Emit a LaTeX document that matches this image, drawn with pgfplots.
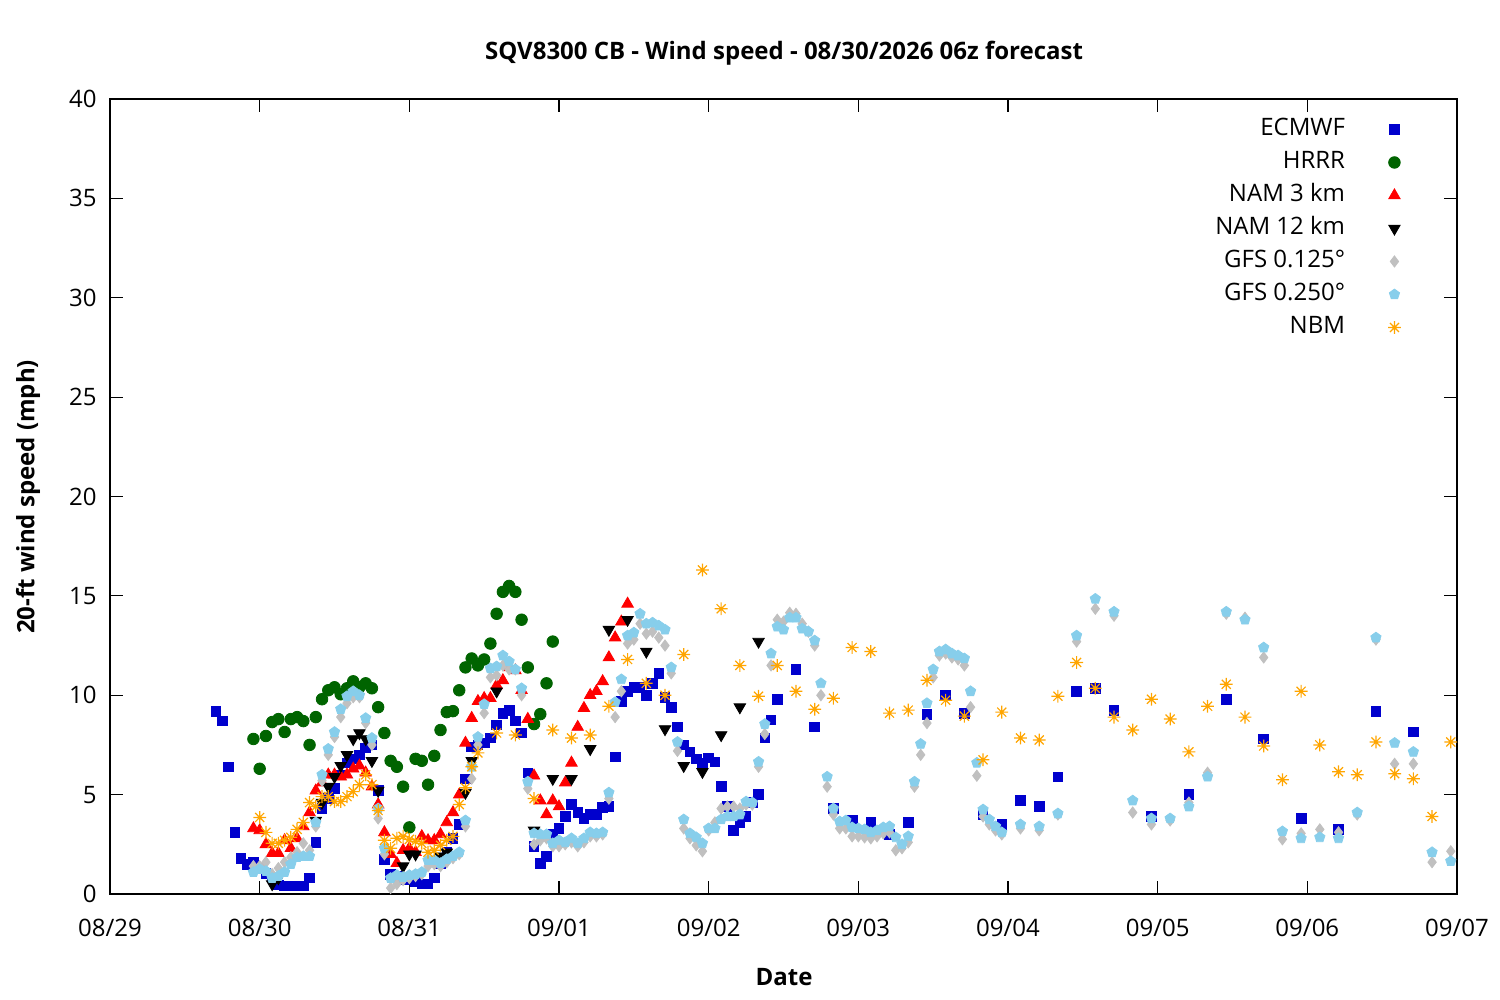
\documentclass[border=0pt]{standalone}
\usepackage{fontspec}
\setmainfont{Open Sans}
\usepackage{pgfplots}
\pgfplotsset{compat=1.18}
\usetikzlibrary{plotmarks}
\definecolor{ecblue}{RGB}{0,0,205}
\definecolor{hrgreen}{RGB}{0,100,0}
\definecolor{gfsgray}{RGB}{192,192,192}
\definecolor{gfsblue}{RGB}{135,206,235}
\definecolor{nbmorange}{RGB}{255,165,0}
\pgfdeclareplotmark{gpast}{%
 \pgfpathmoveto{\pgfqpoint{-\pgfplotmarksize}{0pt}}\pgfpathlineto{\pgfqpoint{\pgfplotmarksize}{0pt}}%
 \pgfpathmoveto{\pgfqpoint{0pt}{-\pgfplotmarksize}}\pgfpathlineto{\pgfqpoint{0pt}{\pgfplotmarksize}}%
 \pgfpathmoveto{\pgfqpoint{-0.7071\pgfplotmarksize}{-0.7071\pgfplotmarksize}}\pgfpathlineto{\pgfqpoint{0.7071\pgfplotmarksize}{0.7071\pgfplotmarksize}}%
 \pgfpathmoveto{\pgfqpoint{-0.7071\pgfplotmarksize}{0.7071\pgfplotmarksize}}\pgfpathlineto{\pgfqpoint{0.7071\pgfplotmarksize}{-0.7071\pgfplotmarksize}}%
 \pgfusepathqstroke}
\begin{document}
\begin{tikzpicture}
\useasboundingbox (0,0) rectangle (750pt,500pt);
\begin{axis}[
 name=ax, at={(55pt,53pt)}, anchor=south west, scale only axis,
 width=673.5pt, height=397.5pt,
 xmin=0, xmax=216, ymin=0, ymax=40, clip=false,
 xtick={0,24,...,216},
 xticklabels={08/29,08/30,08/31,09/01,09/02,09/03,09/04,09/05,09/06,09/07},
 ytick={0,5,...,40},
 minor tick num=0,
 tick align=inside, major tick length=6.5pt,
 axis line style={line width=0.6pt},
 every tick/.style={line width=0.6pt, black},
 /pgf/number format/assume math mode=true,
 every tick label/.append style={font=\fontsize{12}{14}\selectfont, inner sep=0pt},
 xticklabel style={anchor=base, yshift=-21.5pt},
 yticklabel style={anchor=east, xshift=-6.5pt},
 legend cell align=right, legend plot pos=right,
 legend style={draw=none, fill=none, at={(rel axis cs:0.9586,0.976)}, anchor=north east,
   inner sep=0pt, row sep=5.5pt,
   nodes={inner sep=0pt, text height=8.5pt, text depth=2.5pt, font=\fontsize{12}{14}\selectfont},
   /tikz/every odd column/.append style={column sep=21.5pt}},
]
\addplot[only marks, mark=square*, mark size=2.4pt, color=ecblue] coordinates {
(17,9.2)(18,8.7)(19,6.4)(20,3.1)(21,1.8)(22,1.5)(23,1.6)(24,1.3)(25,1.05)(26,0.8)(27,0.45)(28,0.4)(29,0.4)(30,0.4)(31,0.4)(32,0.8)(33,2.6)(34,4.3)(35,4.8)(36,5.3)(37,6.0)(38,6.6)(39,6.8)(40,7.0)(41,7.35)(42,7.5)(43,5.2)(44,1.75)(45,1.0)(46,0.9)(47,0.7)(48,0.7)(49,0.6)(50,0.5)(51,0.5)(52,0.8)(53,1.55)(54,2.1)(55,2.8)(56,3.5)(57,5.8)(58,7.4)(59,7.5)(60,7.6)(61,7.85)(62,8.5)(63,9.1)(64,9.25)(65,8.7)(66,8.1)(67,6.1)(68,2.4)(69,1.55)(70,1.9)(71,3.0)(72,3.3)(73,3.9)(74,4.5)(75,4.1)(76,3.8)(77,4.0)(78,4.0)(79,4.35)(80,4.4)(81,6.9)(82,9.7)(83,10.2)(84,10.4)(85,10.4)(86,10.0)(87,10.6)(88,11.1)(89,9.9)(90,9.4)(91,8.4)(92,7.5)(93,7.15)(94,6.8)(95,6.6)(96,6.85)(97,6.65)(98,5.4)(99,4.4)(100,3.2)(101,3.6)(102,3.9)(103,4.6)(104,5.0)(105,7.85)(106,8.75)(107,9.8)(110,11.3)(113,8.4)(116,4.3)(119,3.7)(122,3.6)(125,3.0)(128,3.6)(131,9.05)(134,10.0)(137,9.1)(140,4.0)(143,3.5)(146,4.7)(149,4.4)(152,5.9)(155,10.2)(158,10.35)(161,9.25)(167,3.9)(173,5.0)(179,9.8)(185,7.8)(191,3.8)(197,3.25)(203,9.2)(209,8.15)
};
\addlegendentry{ECMWF}
\addplot[only marks, mark=*, mark size=2.9pt, color=hrgreen] coordinates {
(23,7.8)(24,6.3)(25,7.95)(26,8.65)(27,8.8)(28,8.15)(29,8.8)(30,8.9)(31,8.7)(32,7.5)(33,8.9)(34,9.8)(35,10.25)(36,10.4)(37,10.05)(38,10.35)(39,10.7)(40,10.4)(41,10.6)(42,10.35)(43,9.4)(44,8.1)(45,6.7)(46,6.4)(47,5.4)(48,3.35)(49,6.8)(50,6.7)(51,5.5)(52,6.95)(53,8.25)(54,9.15)(55,9.2)(56,10.25)(57,11.4)(58,11.85)(59,11.5)(60,11.8)(61,12.6)(62,14.1)(63,15.2)(64,15.5)(65,15.2)(66,13.8)(67,11.4)(68,8.55)(69,9.05)(70,10.6)(71,12.7)
};
\addlegendentry{HRRR}
\addplot[only marks, mark=triangle*, mark size=3.3pt, color=red] coordinates {
(23,3.3)(24,3.2)(25,2.5)(26,2.05)(27,2.05)(28,2.7)(29,2.3)(30,2.8)(31,3.4)(32,4.1)(33,5.2)(34,5.6)(35,6.0)(36,6.0)(37,5.9)(38,6.0)(39,6.3)(40,6.45)(41,6.1)(42,5.4)(43,4.5)(44,3.1)(45,2.0)(46,1.55)(47,2.2)(48,2.3)(49,2.1)(50,2.9)(51,2.7)(52,2.7)(53,3.0)(54,3.6)(55,4.1)(56,5.0)(57,7.6)(58,8.85)(59,9.7)(60,9.85)(61,9.85)(62,10.5)(63,10.75)(64,11.4)(65,11.25)(66,10.25)(67,8.8)(68,5.95)(69,4.7)(70,4.0)(71,4.7)(72,4.4)(73,5.6)(74,6.6)(75,8.4)(76,9.35)(77,10.0)(78,10.2)(79,10.7)(80,11.9)(81,12.9)(82,13.7)(83,14.6)
};
\addlegendentry{NAM 3 km}
\addplot[only marks, mark=triangle*, mark size=3.3pt, mark options={rotate=180}, color=black] coordinates {
(26,0.5)(27,0.8)(33,3.7)(34,4.6)(35,5.4)(36,5.9)(37,6.45)(38,7.0)(39,7.8)(40,8.1)(41,7.8)(42,6.7)(43,5.2)(47,1.4)(48,2.0)(49,2.0)(53,1.9)(54,2.1)(57,5.1)(58,6.7)(62,10.2)(68,3.2)(71,5.8)(74,5.8)(77,7.3)(80,13.3)(83,13.8)(86,12.2)(89,8.3)(92,6.45)(95,6.15)(98,8.0)(101,9.4)(104,12.7)
};
\addlegendentry{NAM 12 km}
\addplot[only marks, mark=diamond*, mark size=2.8pt, color=gfsgray] coordinates {
(23,1.4)(24,1.4)(25,1.6)(26,1.0)(27,1.3)(28,1.6)(29,1.85)(30,2.1)(31,2.55)(32,2.2)(33,3.4)(34,5.7)(35,7.0)(36,7.9)(37,8.9)(38,9.6)(39,9.9)(40,9.9)(41,8.6)(42,7.5)(43,3.8)(44,2.0)(45,0.3)(46,0.5)(47,0.7)(48,0.8)(49,0.9)(50,1.0)(51,1.4)(52,1.5)(53,1.4)(54,1.6)(55,1.8)(56,2.0)(57,3.4)(58,5.8)(59,7.5)(60,9.1)(61,10.9)(62,11.0)(63,11.5)(64,11.3)(65,11.3)(66,10.0)(67,5.3)(68,2.5)(69,2.7)(70,2.8)(71,2.4)(72,2.4)(73,2.5)(74,2.6)(75,2.4)(76,2.6)(77,2.9)(78,2.9)(79,3.0)(80,4.8)(81,8.9)(82,10.2)(83,12.6)(84,12.8)(85,13.6)(86,13.1)(87,13.2)(88,12.9)(89,12.5)(90,11.1)(91,7.2)(92,3.3)(93,2.8)(94,2.45)(95,2.15)(96,3.2)(97,3.6)(98,4.3)(99,4.4)(100,4.4)(101,4.3)(102,4.5)(103,4.5)(104,6.4)(105,8.05)(106,11.5)(107,13.8)(108,13.7)(109,14.15)(110,14.1)(111,13.6)(112,13.2)(113,12.5)(114,10.0)(115,5.4)(116,4.0)(117,3.3)(118,3.3)(119,2.9)(120,2.9)(121,2.85)(122,2.8)(123,2.9)(124,3.05)(125,3.1)(126,2.2)(127,2.3)(128,2.6)(129,5.4)(130,7.0)(131,8.6)(132,10.9)(133,12.0)(134,12.1)(135,11.9)(136,11.8)(137,11.5)(138,9.4)(139,5.95)(140,3.9)(141,3.5)(142,3.2)(143,3.0)(146,3.3)(149,3.2)(152,4.0)(155,12.7)(158,14.35)(161,14.0)(164,4.1)(167,3.5)(170,3.7)(173,4.6)(176,6.1)(179,14.1)(182,13.9)(185,11.9)(188,2.75)(191,3.05)(194,3.25)(197,3.1)(200,4.0)(203,12.8)(206,6.55)(209,6.55)(212,1.6)(215,2.15)
};
\addlegendentry{GFS 0.125°}
\addplot[only marks, mark=pentagon*, mark size=2.7pt, color=gfsblue] coordinates {
(23,1.1)(24,1.25)(25,1.15)(26,0.8)(27,0.9)(28,1.1)(29,1.5)(30,1.85)(31,1.9)(32,1.9)(33,3.6)(34,6.0)(35,7.3)(36,8.15)(37,9.3)(38,9.95)(39,10.2)(40,10.0)(41,8.85)(42,7.85)(43,4.3)(44,2.3)(45,0.8)(46,0.95)(47,0.85)(48,0.95)(49,1.0)(50,1.1)(51,1.7)(52,1.7)(53,1.55)(54,1.75)(55,1.9)(56,2.1)(57,3.7)(58,6.4)(59,7.9)(60,9.55)(61,11.35)(62,11.45)(63,12.0)(64,11.7)(65,11.3)(66,10.35)(67,5.65)(68,3.05)(69,3.0)(70,3.0)(71,2.55)(72,2.7)(73,2.6)(74,2.8)(75,2.55)(76,2.8)(77,3.1)(78,3.05)(79,3.1)(80,5.1)(81,9.65)(82,10.8)(83,13.0)(84,13.15)(85,14.1)(86,13.6)(87,13.65)(88,13.5)(89,13.3)(90,11.4)(91,7.65)(92,3.75)(93,3.05)(94,2.85)(95,2.55)(96,3.3)(97,3.3)(98,3.75)(99,3.9)(100,3.9)(101,4.0)(102,4.65)(103,4.6)(104,6.65)(105,8.55)(106,12.1)(107,13.45)(108,13.3)(109,13.9)(110,13.9)(111,13.35)(112,13.2)(113,12.75)(114,10.6)(115,5.9)(116,4.3)(117,3.65)(118,3.7)(119,3.35)(120,3.3)(121,3.25)(122,3.1)(123,3.2)(124,3.35)(125,3.4)(126,2.85)(127,2.5)(128,2.9)(129,5.65)(130,7.55)(131,9.6)(132,11.3)(133,12.2)(134,12.3)(135,12.1)(136,12.0)(137,11.85)(138,10.2)(139,6.6)(140,4.25)(141,3.75)(142,3.4)(143,3.1)(146,3.5)(149,3.4)(152,4.05)(155,13.0)(158,14.85)(161,14.2)(164,4.7)(167,3.8)(170,3.8)(173,4.4)(176,5.9)(179,14.2)(182,13.8)(185,12.4)(188,3.15)(191,2.8)(194,2.85)(197,2.8)(200,4.1)(203,12.9)(206,7.6)(209,7.15)(212,2.1)(215,1.65)
};
\addlegendentry{GFS 0.250°}
\addplot[only marks, mark=gpast, mark size=3.2pt, mark options={line width=0.6pt}, color=nbmorange] coordinates {
(24,3.85)(25,3.1)(26,2.55)(27,2.55)(28,2.7)(29,2.85)(30,3.25)(31,3.6)(32,4.6)(33,4.4)(34,4.9)(35,4.9)(36,4.65)(37,4.65)(38,4.9)(39,5.15)(40,5.5)(41,6.0)(42,5.5)(43,4.2)(44,2.7)(45,2.3)(46,2.8)(47,2.9)(48,2.75)(49,2.65)(50,2.55)(51,2.1)(52,2.2)(53,2.45)(54,2.7)(55,2.9)(56,4.5)(57,5.35)(58,6.4)(59,7.1)(62,8.1)(65,8.0)(68,4.8)(71,8.25)(74,7.85)(77,8.0)(80,9.45)(83,11.8)(86,10.6)(89,10.0)(92,12.05)(95,16.3)(98,14.35)(101,11.5)(104,9.95)(107,11.5)(110,10.2)(113,9.3)(116,9.85)(119,12.4)(122,12.2)(125,9.1)(128,9.25)(131,10.75)(134,9.75)(137,8.95)(140,6.75)(143,9.15)(146,7.85)(149,7.75)(152,9.95)(155,11.65)(158,10.35)(161,8.9)(164,8.25)(167,9.8)(170,8.8)(173,7.15)(176,9.45)(179,10.55)(182,8.9)(185,7.45)(188,5.75)(191,10.2)(194,7.5)(197,6.15)(200,6.0)(203,7.65)(206,6.05)(209,5.8)(212,3.9)(215,7.65)
};
\addlegendentry{NBM}
\end{axis}
\node[font=\fontsize{12}{14}\selectfont\bfseries] at (392pt,473.5pt) {SQV8300 CB - Wind speed - 08/30/2026 06z forecast};
\node[font=\fontsize{12}{14}\selectfont\bfseries] at (392pt,11.5pt) {Date};
\node[font=\fontsize{12}{14}\selectfont\bfseries, rotate=90] at (14pt,251.5pt) {20-ft wind speed (mph)};
\end{tikzpicture}
\end{document}
